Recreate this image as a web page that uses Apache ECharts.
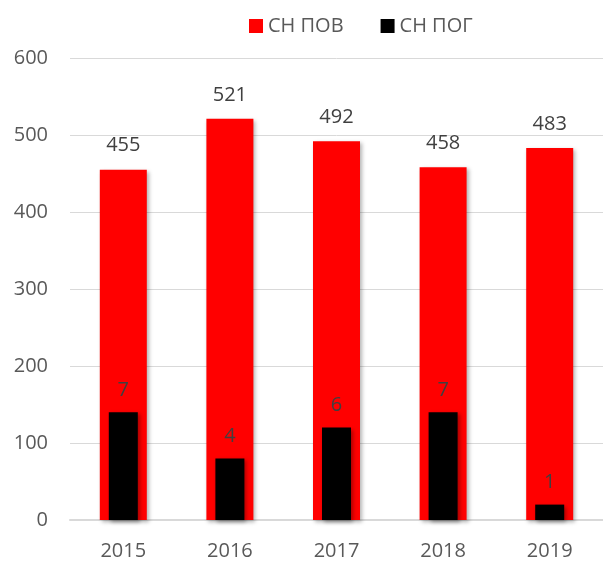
<!DOCTYPE html>
<html><head><meta charset="utf-8">
<script src="https://cdn.jsdelivr.net/npm/echarts@6/dist/echarts.min.js"></script>
<style>html,body{margin:0;padding:0;background:#fff}#c{width:603px;height:562px}</style>
</head><body><div id="c"></div>
<script>
const categories = ['2015','2016','2017','2018','2019'];
const povValues = [455, 521, 492, 458, 483];
const pogValues = [7, 4, 6, 7, 1];
const yTicks = [0, 100, 200, 300, 400, 500, 600];

const font = '"Open Sans", "Noto Sans", sans-serif';
const chart = echarts.init(document.getElementById('c'));
chart.setOption({
  animation: false,
  textStyle: { fontFamily: font },
  legend: {
    top: 11, left: 244, itemWidth: 14, itemHeight: 14, itemGap: 37,
    icon: 'rect',
    textStyle: { fontSize: 20, color: '#595959', fontFamily: font },
    data: ['СН ПОВ', 'СН ПОГ']
  },
  grid: { left: 70, top: 58, width: 538, height: 462, containLabel: false },
  xAxis: [
    { type: 'category', data: categories,
      axisLine: { lineStyle: { color: '#d9d9d9', width: 2 } },
      axisTick: { show: false },
      axisLabel: { fontSize: 20, color: '#595959', margin: 21, fontFamily: font } },
    { type: 'category', data: categories, show: false }
  ],
  yAxis: [
    { type: 'value', min: 0, max: 600, interval: 100,
      axisLine: { show: false }, axisTick: { show: false },
      splitLine: { lineStyle: { color: '#d9d9d9', width: 1 } },
      axisLabel: { fontSize: 20, color: '#595959', margin: 22, fontFamily: font,
        formatter: v => yTicks.includes(v) ? String(v) : '' } },
    { type: 'value', min: 0, max: 30, show: false, splitLine: { show: false } }
  ],
  series: [
    { name: 'СН ПОВ', type: 'bar', xAxisIndex: 0, yAxisIndex: 0, data: povValues,
      barWidth: 47,
      itemStyle: { color: '#ff0000', shadowColor: 'rgba(0,0,0,0.3)', shadowBlur: 4, shadowOffsetX: 2, shadowOffsetY: 2 },
      label: { show: true, position: 'top', distance: 14, fontSize: 20, color: '#404040', fontFamily: font } },
    { name: 'СН ПОГ', type: 'bar', xAxisIndex: 1, yAxisIndex: 1, data: pogValues,
      barWidth: 29,
      itemStyle: { color: '#000000', shadowColor: 'rgba(0,0,0,0.35)', shadowBlur: 4, shadowOffsetX: 2, shadowOffsetY: 2 },
      label: { show: true, position: 'top', distance: 12, fontSize: 20, color: '#404040', fontFamily: font } }
  ]
});
</script></body></html>
